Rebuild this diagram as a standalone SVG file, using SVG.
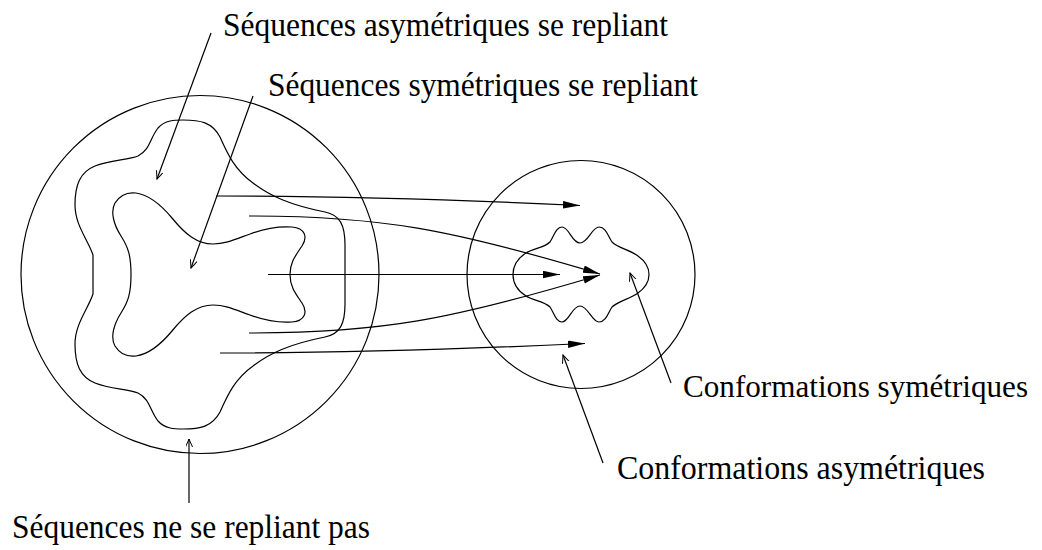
<svg xmlns="http://www.w3.org/2000/svg" width="1042" height="550" viewBox="0 0 1042 550">
<style>
.shape{fill:none;stroke:#000;stroke-width:1.2}
.conn{fill:none;stroke:#000;stroke-width:1.2}
.lbl{font-family:"Liberation Serif","Times New Roman",serif;font-size:33px;fill:#000}
.lbl-s{font-size:31px}
</style>
<defs>
<marker id="fa" markerUnits="userSpaceOnUse" markerWidth="18" markerHeight="10" refX="17" refY="3.75" orient="auto">
<path d="M0,0 L17,3.75 L0,7.5 z" fill="#000"/>
</marker>
<marker id="oa" markerUnits="userSpaceOnUse" markerWidth="10" markerHeight="10" refX="8" refY="3.5" orient="auto">
<path d="M0,0 L8,3.5 L0,7" fill="none" stroke="#000" stroke-width="1"/>
</marker>
</defs>
<rect width="1042" height="550" fill="#fff"/>
<g id="big-circle"><circle class="shape" cx="200" cy="274.5" r="179"/></g>
<g id="outer-region"><path class="shape" d="M93,255 C88,240 75,225 75,205 C75,185 80,172 95,166 C110,160 128,160 138,156 C150,150 150,138 158,128 C165,120 175,120 183,120 C200,120 212,122 220,137 C228,155 235,170 253,183 C270,196 290,205 325,212 C340,215 345,225 345,245 L345,304 C345,324 340,334 325,337 C290,344 270,353 253,366 C235,379 228,394 220,412 C212,427 200,429 183,429 C175,429 165,429 158,421 C150,411 150,399 138,393 C128,389 110,389 95,383 C80,377 75,364 75,344 C75,324 88,309 93,294 Z"/></g>
<g id="inner-region"><path class="shape" d="M131,274.5 C131,255 128,247 121,236 C114,225 110,212 115,203 C120,195 128,192 136,193 C150,195 162,206 172,218 C185,234 197,244 213,244 C226,244 236,239 250,234 C263,229 278,226 292,227 C305,228 308,237 302,246 C296,255 290,262 290,274.5 C290,287 296,294 302,303 C308,312 305,321 292,322 C278,323 263,320 250,315 C236,310 226,305 213,305 C197,305 185,315 172,331 C162,343 150,354 136,356 C128,357 120,354 115,346 C110,337 114,324 121,313 C128,302 131,294 131,274.5 Z"/></g>
<g id="small-circle"><circle class="shape" cx="581" cy="274.5" r="114"/></g>
<g id="symmetric-shape"><path class="shape" d="M513,274.5 C513,264 518,258 526,253 C534,248 544,248 550,242 C554,236 556,227 562,227 C569,227 572,243 580,243 C588,243 592,227 599,227 C606,227 608,236 612,242 C618,248 630,250 638,256 C645,261 649,266 649,274.5 C649,283 645,288 638,293 C630,299 618,301 612,307 C608,313 606,322 599,322 C592,322 588,306 580,306 C572,306 569,322 562,322 C556,322 554,313 550,307 C544,301 534,301 526,296 C518,291 513,285 513,274.5 Z"/></g>
<g id="connectors">
<path class="conn" d="M216,196 Q380,196 580,205.5" marker-end="url(#fa)"/>
<path class="conn" d="M249,216 C380,216 450,229 600,274" marker-end="url(#fa)"/>
<path class="conn" d="M268,274.5 L560,274.5" marker-end="url(#fa)"/>
<path class="conn" d="M249,333 C380,333 450,320 600,275" marker-end="url(#fa)"/>
<path class="conn" d="M220,353 Q380,353 585,343.5" marker-end="url(#fa)"/>
<path class="conn" d="M211,33 L157,179" marker-end="url(#oa)"/>
<path class="conn" d="M253,96 L191,268" marker-end="url(#oa)"/>
<path class="conn" d="M189,503 L189,439" marker-end="url(#oa)"/>
<path class="conn" d="M671,383 L630,273" marker-end="url(#oa)"/>
<path class="conn" d="M603,463 L563,355" marker-end="url(#oa)"/>
</g>
<g id="label-asym-seq"><text class="lbl" x="223" y="35.5" textLength="445" lengthAdjust="spacingAndGlyphs">Séquences asymétriques se repliant</text></g>
<g id="label-sym-seq"><text class="lbl" x="268" y="96" textLength="430" lengthAdjust="spacingAndGlyphs">Séquences symétriques se repliant</text></g>
<g id="label-nonfold"><text class="lbl" x="12" y="538" textLength="358" lengthAdjust="spacingAndGlyphs">Séquences ne se repliant pas</text></g>
<g id="label-sym-conf"><text class="lbl lbl-s" x="683" y="397" textLength="345" lengthAdjust="spacingAndGlyphs">Conformations symétriques</text></g>
<g id="label-asym-conf"><text class="lbl" x="617" y="479" textLength="368" lengthAdjust="spacingAndGlyphs">Conformations asymétriques</text></g>
</svg>
